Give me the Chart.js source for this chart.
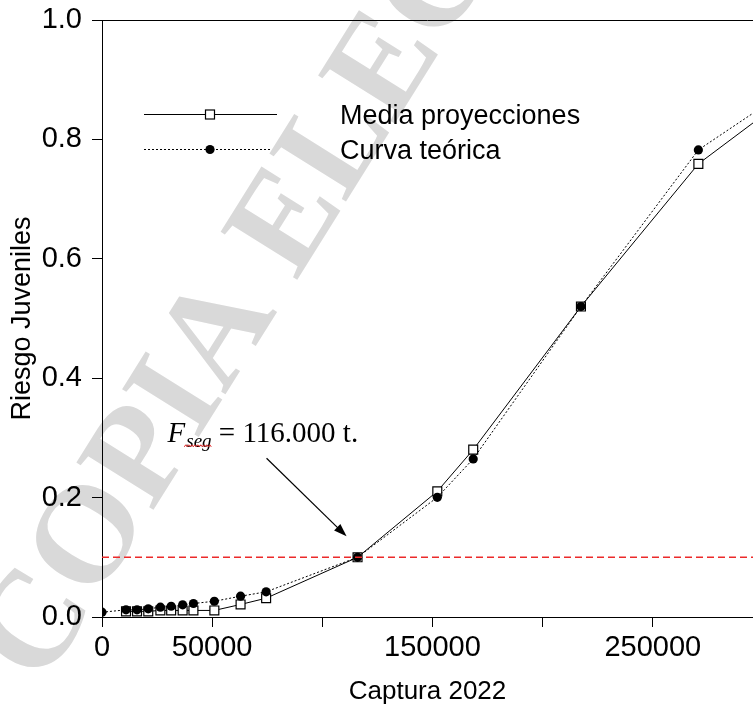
<!DOCTYPE html>
<html>
<head>
<meta charset="utf-8">
<script src="https://cdn.jsdelivr.net/npm/chart.js@4.4.0/dist/chart.umd.min.js"></script>
<style>
  html, body { margin: 0; padding: 0; background: #fff; overflow: hidden; }
  #wrap { width: 753px; height: 707px; position: relative; }
</style>
</head>
<body>
<div id="wrap"><canvas id="grafico" width="753" height="707"></canvas></div>
<script>
// Captura 2022 (t) y riesgo de juveniles
const capturaMedia = [10900, 15900, 21000, 26500, 31400, 36600, 41500, 51000, 62900, 74500, 116000, 152200, 168500, 217400, 270700, 300000];
const riesgoMedia  = [0.0095, 0.0095, 0.0095, 0.011, 0.011, 0.011, 0.011, 0.011, 0.021, 0.0315, 0.100, 0.2105, 0.2803, 0.520, 0.759, 0.840];

const capturaCurva = [0, 10900, 15900, 21000, 26500, 31400, 36600, 41500, 51000, 62900, 74500, 116000, 152200, 168500, 217400, 270700, 300000];
const riesgoCurva  = [0.008, 0.012, 0.012, 0.0137, 0.0164, 0.018, 0.0204, 0.0226, 0.0264, 0.0348, 0.0422, 0.100, 0.2005, 0.2648, 0.520, 0.7824, 0.855];

const umbralRiesgo = 0.1;      // nivel de riesgo de referencia
const fSeg = 116000;           // captura segura

const xTicks = [0, 50000, 100000, 150000, 200000, 250000];
const xTickLabels = ['0', '50000', '', '150000', '', '250000'];
const yTicks = [0, 0.2, 0.4, 0.6, 0.8, 1.0];

const etiquetaMedia = 'Media proyecciones';
const etiquetaCurva = 'Curva teórica';

const SANS = '"Liberation Sans", Arial, sans-serif';
const SERIF = '"Liberation Serif", "Times New Roman", serif';

function miles(n) {
  return String(n).replace(/\B(?=(\d{3})+(?!\d))/g, '.');
}

// Marca de agua de fondo
const marcaAgua = {
  id: 'marcaAgua',
  beforeDraw(chart) {
    const ctx = chart.ctx;
    ctx.save();
    ctx.fillStyle = '#ffffff';
    ctx.fillRect(0, 0, chart.width, chart.height);
    ctx.translate(42, 688);
    ctx.rotate(-58 * Math.PI / 180);
    ctx.font = 'bold 138px ' + SERIF;
    ctx.fillStyle = '#d9d9d9';
    ctx.textBaseline = 'alphabetic';
    ctx.fillText('COPIA ELECTRÓNICA', 0, 0);
    ctx.restore();
  }
};

// Borde superior del marco
const marcoSuperior = {
  id: 'marcoSuperior',
  afterDraw(chart) {
    const { ctx, chartArea } = chart;
    ctx.save();
    ctx.strokeStyle = '#000';
    ctx.lineWidth = 1;
    ctx.beginPath();
    const y = Math.round(chartArea.top) + 0.5;
    ctx.moveTo(chartArea.left, y);
    ctx.lineTo(chartArea.right, y);
    ctx.stroke();
    ctx.restore();
  }
};

// Leyenda con línea y símbolo
const leyenda = {
  id: 'leyenda',
  afterDraw(chart) {
    const ctx = chart.ctx;
    const dsMedia = chart.data.datasets[0];
    const dsCurva = chart.data.datasets[1];
    ctx.save();
    // Media proyecciones
    ctx.strokeStyle = '#000';
    ctx.lineWidth = 1;
    ctx.setLineDash([]);
    ctx.beginPath();
    ctx.moveTo(144, 114.5);
    ctx.lineTo(277, 114.5);
    ctx.stroke();
    ctx.fillStyle = '#fff';
    ctx.lineWidth = 1.2;
    ctx.fillRect(205.5, 110, 9, 9);
    ctx.strokeRect(205.5, 110, 9, 9);
    // Curva teórica
    ctx.lineWidth = 1;
    ctx.setLineDash([2, 2]);
    ctx.beginPath();
    ctx.moveTo(144, 149.5);
    ctx.lineTo(272, 149.5);
    ctx.stroke();
    ctx.setLineDash([]);
    ctx.fillStyle = '#000';
    ctx.beginPath();
    ctx.arc(210, 149.5, 4.6, 0, Math.PI * 2);
    ctx.fill();
    // textos
    ctx.font = '27px ' + SANS;
    ctx.fillStyle = '#000';
    ctx.textBaseline = 'middle';
    ctx.textAlign = 'left';
    ctx.fillText(dsMedia.label, 340, 117);
    ctx.fillText(dsCurva.label, 340, 152);
    ctx.restore();
  }
};

// Anotación de la captura segura con flecha
const anotacion = {
  id: 'anotacion',
  afterDraw(chart) {
    const ctx = chart.ctx;
    const px = chart.scales.x.getPixelForValue(fSeg);
    const py = chart.scales.y.getPixelForValue(umbralRiesgo);
    ctx.save();
    // flecha
    const x0 = px - 91, y0 = py - 99;
    const x1 = px - 11, y1 = py - 21;
    const ang = Math.atan2(y1 - y0, x1 - x0);
    ctx.strokeStyle = '#000';
    ctx.fillStyle = '#000';
    ctx.lineWidth = 1.2;
    ctx.beginPath();
    ctx.moveTo(x0, y0);
    ctx.lineTo(x1 - 10 * Math.cos(ang), y1 - 10 * Math.sin(ang));
    ctx.stroke();
    ctx.beginPath();
    ctx.moveTo(x1, y1);
    ctx.lineTo(x1 - 13 * Math.cos(ang) + 4.5 * Math.sin(ang), y1 - 13 * Math.sin(ang) - 4.5 * Math.cos(ang));
    ctx.lineTo(x1 - 13 * Math.cos(ang) - 4.5 * Math.sin(ang), y1 - 13 * Math.sin(ang) + 4.5 * Math.cos(ang));
    ctx.closePath();
    ctx.fill();
    // texto F_seg = ...
    let tx = px - 190;
    const ty = py - 115;
    ctx.textBaseline = 'alphabetic';
    ctx.textAlign = 'left';
    ctx.font = 'italic 29px ' + SERIF;
    ctx.fillText('F', tx, ty);
    tx += ctx.measureText('F').width + 1;
    ctx.font = 'italic 19px ' + SERIF;
    const sx = tx;
    ctx.fillText('seg', tx, ty + 5);
    tx += ctx.measureText('seg').width;
    const ex = tx;
    // subrayado ondulado
    ctx.strokeStyle = '#e02020';
    ctx.lineWidth = 1;
    ctx.beginPath();
    for (let x = sx - 2, k = 0; x <= ex; x += 1.5, k++) {
      const yy = ty + 3.5 + (k % 2 ? -1 : 1);
      if (k === 0) ctx.moveTo(x, yy); else ctx.lineTo(x, yy);
    }
    ctx.stroke();
    ctx.font = '29px ' + SERIF;
    ctx.fillStyle = '#000';
    ctx.fillText(' = ' + miles(fSeg) + ' t.', tx, ty);
    ctx.restore();
  }
};

const puntos = (xs, ys) => xs.map((x, i) => ({ x, y: ys[i] }));

new Chart(document.getElementById('grafico'), {
  type: 'line',
  data: {
    datasets: [
      {
        label: etiquetaMedia,
        data: puntos(capturaMedia, riesgoMedia),
        borderColor: '#000',
        borderWidth: 1,
        tension: 0,
        pointStyle: 'rect',
        pointRadius: 6.3,
        pointBorderWidth: 1.2,
        pointBackgroundColor: '#fff',
        pointBorderColor: '#000',
        order: 3
      },
      {
        label: etiquetaCurva,
        data: puntos(capturaCurva, riesgoCurva),
        borderColor: '#000',
        borderWidth: 1,
        borderDash: [2, 2],
        tension: 0,
        pointStyle: 'circle',
        pointRadius: 4.6,
        pointBorderWidth: 0,
        pointBackgroundColor: '#000',
        pointBorderColor: '#000',
        order: 2
      },
      {
        label: 'umbral',
        data: [{ x: 0, y: umbralRiesgo }, { x: 300000, y: umbralRiesgo }],
        borderColor: '#ec2a2a',
        borderWidth: 1.5,
        borderDash: [7, 4],
        pointRadius: 0,
        order: 1
      }
    ]
  },
  options: {
    responsive: false,
    animation: false,
    devicePixelRatio: 1,
    layout: { autoPadding: false, padding: { top: 20, right: 0, left: 0, bottom: 0 } },
    plugins: {
      legend: { display: false },
      tooltip: { enabled: false }
    },
    scales: {
      x: {
        type: 'linear',
        min: 0,
        max: 295500,
        afterBuildTicks(scale) { scale.ticks = xTicks.map(v => ({ value: v })); },
        afterFit(scale) { scale.height = 90; scale.paddingRight = 0; scale.paddingLeft = 0; },
        ticks: {
          autoSkip: false,
          maxRotation: 0,
          padding: 4,
          color: '#000',
          font: { family: SANS, size: 29 },
          callback: (v, i) => xTickLabels[i]
        },
        grid: { drawOnChartArea: false, drawTicks: true, tickLength: 10, color: '#000', lineWidth: 1 },
        border: { display: true, color: '#000', width: 1 },
        title: { display: true, text: 'Captura 2022', color: '#000', font: { family: SANS, size: 26 }, padding: { top: 0, bottom: 0 } }
      },
      y: {
        type: 'linear',
        min: 0,
        max: 1,
        afterBuildTicks(scale) { scale.ticks = yTicks.map(v => ({ value: v })); },
        afterFit(scale) { scale.width = 102; scale.paddingTop = 0; scale.paddingBottom = 0; },
        ticks: {
          padding: 10,
          color: '#000',
          font: { family: SANS, size: 29 },
          callback: v => Number(v).toFixed(1)
        },
        grid: { drawOnChartArea: false, drawTicks: true, tickLength: 10, color: '#000', lineWidth: 1 },
        border: { display: true, color: '#000', width: 1 },
        title: { display: true, text: 'Riesgo Juveniles', color: '#000', font: { family: SANS, size: 27 }, padding: { top: 6, bottom: 0 } }
      }
    }
  },
  plugins: [marcaAgua, marcoSuperior, leyenda, anotacion]
});
</script>
</body>
</html>
